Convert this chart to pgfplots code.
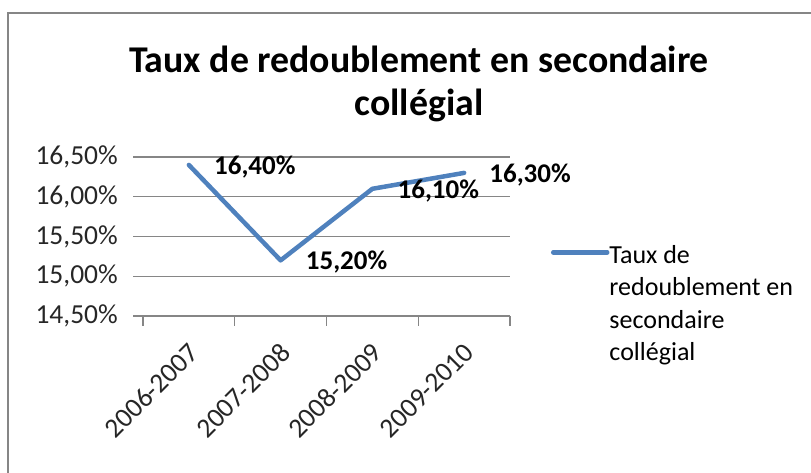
\documentclass[border=0pt]{standalone}
\usepackage{fontspec}
\setmainfont{Carlito}
\usepackage{pgfplots}
\pgfplotsset{compat=1.18}
\usepackage{pgfplotstable}
\definecolor{serie}{RGB}{79,129,189}
\definecolor{grille}{RGB}{134,134,134}
\pgfplotstableread{
x y label
0 16.4 16,40\%
1 15.2 15,20\%
2 16.1 16,10\%
3 16.3 16,30\%
}\donnees
\begin{document}
\begin{tikzpicture}
\useasboundingbox (0,0) rectangle (811bp,473bp);
\begin{scope}
\clip (0,0) rectangle (811bp,473bp);
\draw[grille, line width=2bp] (8bp,-20bp) -- (8bp,460bp) -- (830bp,460bp);
\end{scope}
\node[font=\fontsize{37.8bp}{42bp}\selectfont\bfseries, anchor=base, inner sep=0pt] at (419bp,400bp) {Taux de redoublement en secondaire};
\node[font=\fontsize{37.8bp}{42bp}\selectfont\bfseries, anchor=base, inner sep=0pt] at (419bp,357bp) {collégial};
\begin{axis}[
  at={(143bp,157bp)}, anchor=south west,
  scale only axis, width=367bp, height=159bp,
  xmin=-0.5, xmax=3.5, ymin=14.5, ymax=16.5,
  xtick={0,1,2,3},
  xticklabels={2006-2007,2007-2008,2008-2009,2009-2010},
  minor xtick={-0.5,0.5,1.5,2.5,3.5},
  ytick={14.5,15,15.5,16,16.5},
  yticklabels={{14,50\%},{15,00\%},{15,50\%},{16,00\%},{16,50\%}},
  ymajorgrids,
  major grid style={grille, line width=1.3bp},
  axis x line*=bottom, axis y line*=left,
  x axis line style={grille, line width=1.3bp, -},
  y axis line style={draw=none},
  xtick pos=bottom, ytick pos=left,
  tick align=outside,
  major x tick style={draw=none},
  minor x tick style={grille, line width=1.3bp},
  major y tick style={grille, line width=1.3bp},
  major tick length=10bp, minor tick length=10bp,
  tick label style={font=\fontsize{27.5bp}{30bp}\selectfont, text=black!85},
  xticklabel style={xshift=5bp, yshift=-22bp, rotate=45, anchor=east, inner sep=0pt},
  yticklabel style={xshift=-15bp, anchor=east, inner sep=0pt},
  legend style={at={(axis description cs:1.1117,0.476)}, anchor=north west,
    draw=none, fill=none, inner sep=0pt, outer sep=0pt,
    font=\fontsize{26bp}{32.5bp}\selectfont,
    nodes={inner sep=0pt},
    /tikz/every even column/.append style={column sep=5bp}},
  legend cell align=left,
  legend image code/.code={
    \draw[#1, line width=4.5bp, line cap=round] (0bp,0bp) -- (54bp,0bp);
  },
  nodes near coords,
  point meta=explicit symbolic,
  nodes near coords align={anchor=west},
  every node near coord/.append style={font=\fontsize{27bp}{30bp}\selectfont\bfseries, inner sep=0pt, xshift=23bp, yshift=-2bp, text=black},
]
\addplot[serie, line width=4.5bp, line cap=round, line join=round] table[x=x, y=y, meta=label] {\donnees};
\addlegendentry{\begin{tabular}[t]{@{}l@{}}Taux de\\redoublement en\\secondaire\\collégial\end{tabular}}
\end{axis}
\end{tikzpicture}
\end{document}
